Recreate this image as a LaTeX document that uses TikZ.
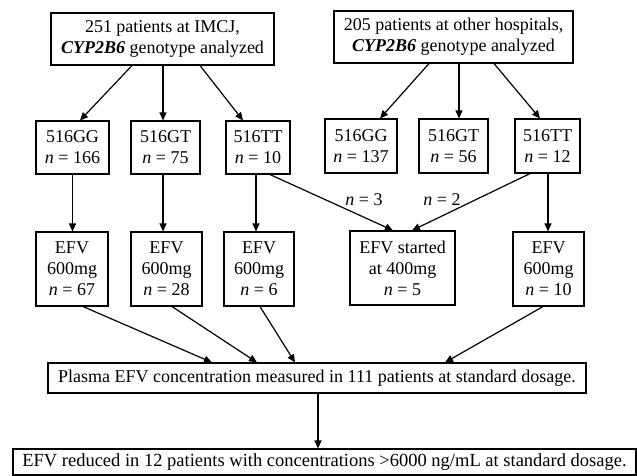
\documentclass[tikz,border=0pt]{standalone}
\usepackage{fontspec}
\setmainfont{Liberation Serif}
\usetikzlibrary{arrows.meta}
\begin{document}
\begin{tikzpicture}[x=1pt,y=-1pt,
  box/.style={draw,line width=1.1pt,inner sep=0pt,align=center,font=\fontsize{18}{21}\selectfont},
  lbl/.style={inner sep=0pt,font=\fontsize{18}{21}\selectfont},
  arr/.style={line width=1.2pt,-{Triangle[length=8pt,width=7pt]}}]
\useasboundingbox (0,0) rectangle (637,476);
% top boxes
\node[box,minimum width=223pt,minimum height=52pt] (t1) at (162.5,39) {251 patients at IMCJ,\\\textbf{\textit{CYP2B6}} genotype analyzed};
\node[box,minimum width=239pt,minimum height=52pt] (t2) at (453.5,37) {205 patients at other hospitals,\\\textbf{\textit{CYP2B6}} genotype analyzed};
% genotype boxes
\node[box,minimum width=73pt,minimum height=53pt] (gg1) at (72.5,147.5) {516GG\\\textit{n} = 166};
\node[box,minimum width=69pt,minimum height=53pt] (gt1) at (165.5,147.5) {516GT\\\textit{n} = 75};
\node[box,minimum width=64pt,minimum height=53pt] (tt1) at (258,147.5) {516TT\\\textit{n} = 10};
\node[box,minimum width=72pt,minimum height=54pt] (gg2) at (361,146) {516GG\\\textit{n} = 137};
\node[box,minimum width=69pt,minimum height=54pt] (gt2) at (453.5,146) {516GT\\\textit{n} = 56};
\node[box,minimum width=65pt,minimum height=54pt] (tt2) at (547.5,146) {516TT\\\textit{n} = 12};
% dose boxes
\node[box,minimum width=72pt,minimum height=74pt] (e1) at (72,269) {EFV\\600mg\\\textit{n} = 67};
\node[box,minimum width=71pt,minimum height=74pt] (e2) at (166.5,269) {EFV\\600mg\\\textit{n} = 28};
\node[box,minimum width=70pt,minimum height=74pt] (e3) at (259,269) {EFV\\600mg\\\textit{n} = 6};
\node[box,minimum width=105pt,minimum height=74pt] (e4) at (402.5,268) {EFV started\\at 400mg\\\textit{n} = 5};
\node[box,minimum width=71pt,minimum height=74pt] (e5) at (548.5,269) {EFV\\600mg\\\textit{n} = 10};
% bottom boxes
\node[box,minimum width=538pt,minimum height=30pt] (p) at (317,378) {Plasma EFV concentration measured in 111 patients at standard dosage.};
\node[box,minimum width=623pt,minimum height=26pt,font=\fontsize{18.5}{21}\selectfont] (b) at (324.5,462) {EFV reduced in 12 patients with concentrations >6000 ng/mL at standard dosage.};
% labels
\node[lbl] (l3) at (364,200) {\textit{n} = 3};
\node[lbl] (l2) at (442,200) {\textit{n} = 2};
% arrows from top boxes
\draw[arr] ([xshift=-30.5pt]t1.south) -- ([xshift=7.5pt]gg1.north);
\draw[arr] ([xshift=0.5pt]t1.south) -- ([xshift=-2.5pt]gt1.north);
\draw[arr] ([xshift=37.5pt]t1.south) -- ([xshift=-15pt]tt1.north);
\draw[arr] ([xshift=-24.5pt]t2.south) -- ([xshift=19pt]gg2.north);
\draw[arr] ([xshift=5.5pt]t2.south) -- ([xshift=5.5pt]gt2.north);
\draw[arr] ([xshift=40.5pt]t2.south) -- ([xshift=-7.5pt]tt2.north);
% genotype to dose
\coordinate (a1) at (gg1.south);
\coordinate (a2) at ([xshift=-2.5pt]gt1.south);
\coordinate (a3) at ([xshift=-2pt]tt1.south);
\coordinate (a5) at ([xshift=0.5pt]tt2.south);
\draw[arr] (a1) -- (a1 |- e1.north);
\draw[arr] (a2) -- (a2 |- e2.north);
\draw[arr] (a3) -- (a3 |- e3.north);
\draw[arr] (a5) -- (a5 |- e5.north);
\draw[arr] ([xshift=12pt]tt1.south) -- ([xshift=-9.5pt]e4.north);
\draw[arr] ([xshift=-17.5pt]tt2.south) -- ([xshift=9.5pt]e4.north);
% dose to plasma
\draw[arr] ([xshift=11pt]e1.south) -- ([xshift=-105pt]p.north);
\draw[arr] ([xshift=5.5pt]e2.south) -- ([xshift=-60pt]p.north);
\draw[arr] ([xshift=1pt]e3.south) -- ([xshift=-22pt]p.north);
\draw[arr] ([xshift=-5.5pt]e5.south) -- ([xshift=128pt]p.north);
% plasma to reduced
\coordinate (pb) at ([xshift=1pt]p.south);
\draw[arr] (pb) -- (pb |- b.north);
\end{tikzpicture}
\end{document}
